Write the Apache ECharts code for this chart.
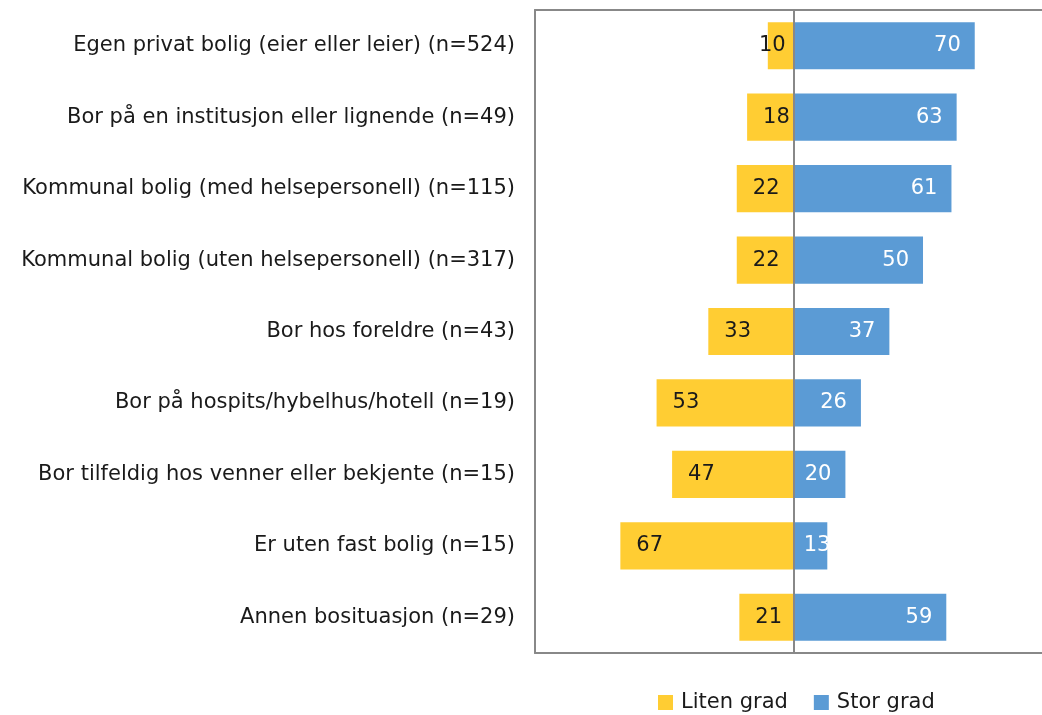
<!DOCTYPE html>
<html>
<head>
<meta charset="utf-8">
<script src="https://cdn.jsdelivr.net/npm/echarts@6/dist/echarts.min.js"></script>
<style>
  html, body { margin: 0; padding: 0; background: #fff; }
  #chart { width: 1042px; height: 715px; }
</style>
</head>
<body>
<div id="chart"></div>
<script>
// kategorier (øverst først)
const categories = [
  'Egen privat bolig (eier eller leier) (n=524)',
  'Bor på en institusjon eller lignende (n=49)',
  'Kommunal bolig (med helsepersonell) (n=115)',
  'Kommunal bolig (uten helsepersonell) (n=317)',
  'Bor hos foreldre (n=43)',
  'Bor på hospits/hybelhus/hotell (n=19)',
  'Bor tilfeldig hos venner eller bekjente (n=15)',
  'Er uten fast bolig (n=15)',
  'Annen bosituasjon (n=29)'
];
const litenGrad = [10, 18, 22, 22, 33, 53, 47, 67, 21];
const storGrad = [70, 63, 61, 50, 37, 26, 20, 13, 59];

const font = 'DejaVu Sans, Verdana, sans-serif';
const yellow = '#FFCD33';
const blue = '#5B9BD5';
const frame = { show: true, onZero: false, lineStyle: { color: '#888', width: 2 } };

let myChart = echarts.init(document.getElementById('chart'));

const option = {
  animation: false,
  textStyle: { fontFamily: font },
  grid: { left: 535, right: 0, top: 10, height: 643 },
  legend: {
    top: 687, left: 653,
    itemWidth: 15, itemHeight: 15, itemGap: 26,
    icon: 'rect',
    textStyle: { fontSize: 21, color: '#1a1a1a', fontFamily: font, padding: [0, 0, 0, 3] },
    data: ['Liten grad', 'Stor grad']
  },
  xAxis: [
    {
      type: 'value', min: -100, max: 96, position: 'bottom',
      axisLine: frame, axisTick: { show: false },
      axisLabel: { show: false }, splitLine: { show: false }
    },
    {
      type: 'value', min: -100, max: 96, position: 'top',
      axisLine: frame, axisTick: { show: false },
      axisLabel: { show: false }, splitLine: { show: false }
    }
  ],
  yAxis: {
    type: 'category', data: categories, inverse: true,
    axisLine: frame, axisTick: { show: false },
    axisLabel: { fontSize: 21, color: '#1a1a1a', margin: 20, fontFamily: font }
  },
  series: [
    {
      name: 'Liten grad', type: 'bar', stack: 'tot', barWidth: '66%',
      itemStyle: { color: yellow },
      data: litenGrad.map(v => ({
        value: -v,
        label: v < 15 ? { position: 'insideRight', distance: 8 } : { position: 'insideLeft' }
      })),
      label: {
        show: true, distance: 16, fontSize: 21, color: '#1a1a1a', fontFamily: font,
        formatter: p => Math.abs(p.value)
      },
      markLine: {
        silent: true, symbol: 'none', label: { show: false },
        lineStyle: { color: '#888', width: 2, type: 'solid' },
        data: [{ xAxis: 0 }]
      }
    },
    {
      name: 'Stor grad', type: 'bar', stack: 'tot', barWidth: '66%',
      itemStyle: { color: blue },
      data: storGrad.map(v => ({
        value: v,
        label: v < 15 ? { position: 'insideLeft', distance: 10 } : { position: 'insideRight' }
      })),
      label: {
        show: true, distance: 14, fontSize: 21, color: '#fff', fontFamily: font
      }
    }
  ]
};

myChart.setOption(option);
window.onresize = function () {
  myChart.resize();
};
</script>
</body>
</html>
